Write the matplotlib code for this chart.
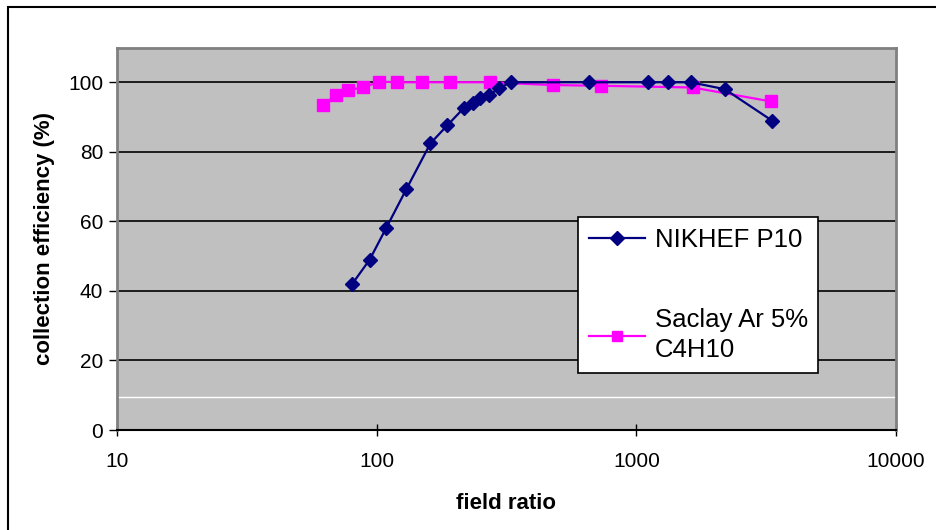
import matplotlib
matplotlib.use("Agg")
import matplotlib.pyplot as plt
from matplotlib.patches import Rectangle

plt.rcParams['font.family'] = ['Liberation Sans', 'DejaVu Sans']

# NIKHEF P10
nikhef_x = [80.5, 94, 109, 130, 161, 187, 216, 234, 251, 270, 297, 328, 655, 1107, 1321, 1622, 2193, 3327]
nikhef_y = [42, 49, 58.2, 69.2, 82.4, 87.6, 92.5, 94, 95.4, 96.3, 98.3, 100, 100, 100, 100, 100, 98, 89]

# Saclay Ar 5% C4H10
saclay_x = [62.2, 70, 77.8, 88.9, 102.4, 120, 150, 191, 272, 476, 729, 1648, 3297]
saclay_y = [93.5, 96.4, 97.8, 98.5, 100.2, 100, 100, 100, 100, 99.2, 99, 98.5, 94.5]

y_ticks = [0, 20, 40, 60, 80, 100]
x_ticks = [10, 100, 1000, 10000]
x_ticklabels = ["10", "100", "1000", "10000"]

W, H = 936, 530
fig = plt.figure(figsize=(W / 100, H / 100), dpi=100)
fig.patch.set_facecolor('white')

ax = fig.add_axes([117 / W, 1 - 430 / H, (896 - 117) / W, (430 - 47.5) / H])
ax.set_facecolor('#C0C0C0')
ax.set_xscale('log')
ax.set_xlim(10, 10000)
ax.set_ylim(0, 110)

for yv in y_ticks[1:]:
    ax.axhline(yv, color='black', lw=1.2, zorder=1)
ax.axhline(9.4, color='white', lw=1.0, zorder=1)

ax.plot(nikhef_x, nikhef_y, color='#000080', lw=1.6, marker='D', ms=7.5,
        markeredgecolor='#000080', markerfacecolor='#000080', label='NIKHEF P10', zorder=4)
ax.plot(saclay_x, saclay_y, color='#FF00FF', lw=1.6, marker='s', ms=8.5,
        markeredgecolor='#FF00FF', markerfacecolor='#FF00FF', label='Saclay Ar 5%\nC4H10', zorder=3)

ax.set_yticks(y_ticks)
ax.set_xticks(x_ticks)
ax.set_xticklabels(x_ticklabels)
ax.minorticks_off()
ax.tick_params(axis='y', direction='out', length=6, width=1, labelsize=15, pad=4)
ax.tick_params(axis='x', direction='inout', length=8, width=1, labelsize=15, pad=12)

for s in ['left', 'right', 'top']:
    ax.spines[s].set_color('#808080')
    ax.spines[s].set_linewidth(2)
ax.spines['bottom'].set_color('black')
ax.spines['bottom'].set_linewidth(1.5)

ax.set_xlabel('field ratio', fontsize=16, fontweight='bold', labelpad=16)
ax.set_ylabel('collection efficiency (%)', fontsize=16, fontweight='bold', labelpad=9)

leg = ax.legend(loc='upper left', bbox_to_anchor=(578 / W, 1 - 217 / H),
                bbox_transform=fig.transFigure, fontsize=18.5, frameon=True,
                fancybox=False, edgecolor='black', framealpha=1,
                handlelength=2.2, handletextpad=0.36, borderpad=0.42,
                labelspacing=2.2, markerscale=0.9, borderaxespad=0)
leg.get_frame().set_linewidth(1.2)
for t in leg.get_texts():
    t.set_linespacing(1.3)

fig.patches.append(Rectangle((8 / W, -0.05), 1.2, 1 - 7 / H + 0.05, transform=fig.transFigure,
                             fill=False, edgecolor='black', lw=1.5, zorder=10))

fig.savefig('out.png', dpi=100)
